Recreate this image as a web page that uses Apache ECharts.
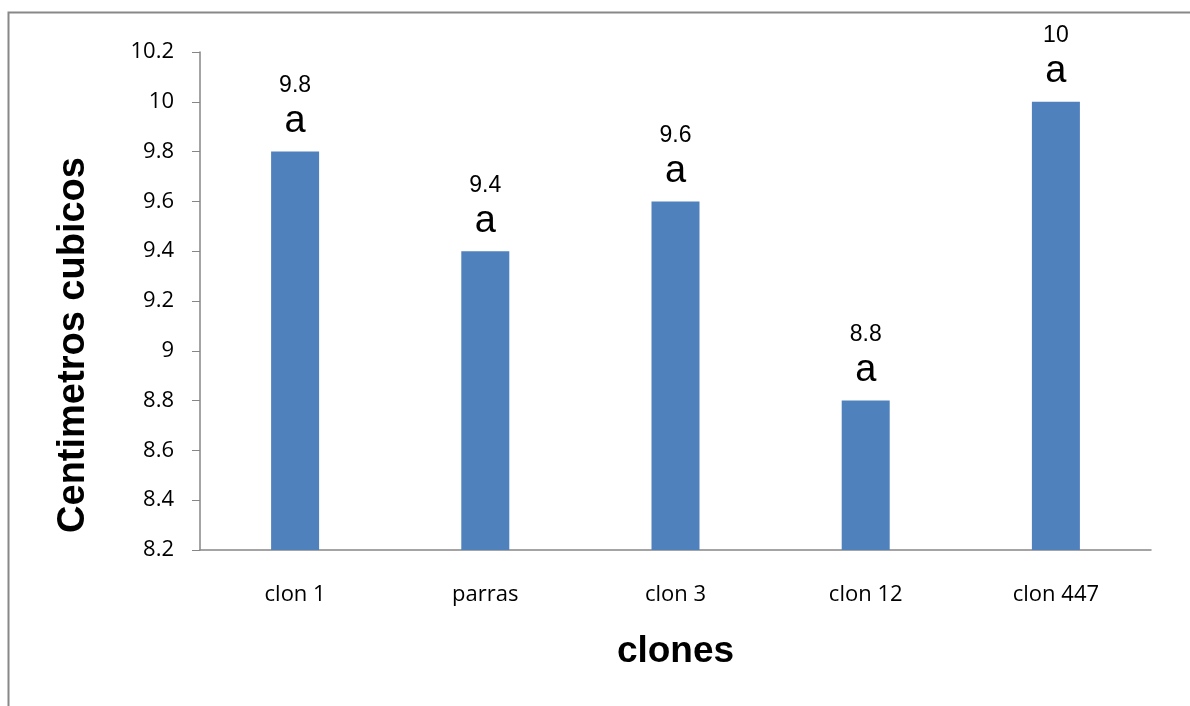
<!DOCTYPE html>
<html>
<head>
<meta charset="utf-8">
<script src="https://cdn.jsdelivr.net/npm/echarts@6/dist/echarts.min.js"></script>
<style>
  html, body { margin: 0; padding: 0; background: #fff; }
  #chart { width: 1190px; height: 706px; }
</style>
</head>
<body>
<div id="chart"></div>
<script>
// Volume per clone, with significance letters
const categories = ['clon 1', 'parras', 'clon 3', 'clon 12', 'clon 447'];
const values = [9.8, 9.4, 9.6, 8.8, 10];
const letters = ['a', 'a', 'a', 'a', 'a'];
const yTicks = { min: 8.2, max: 10.2, step: 0.2 };
const yTitle = 'Centimetros cubicos';
const xTitle = 'clones';

const chart = echarts.init(document.getElementById('chart'));

chart.setOption({
  animation: false,
  backgroundColor: '#ffffff',
  graphic: [{
    type: 'rect',
    left: 6, top: 10,
    shape: { width: 1250, height: 760 },
    style: { fill: 'none', stroke: '#888888', lineWidth: 2 },
    silent: true
  }, {
    // vertical axis title, set a little below the plot's middle
    type: 'text',
    x: 74, y: 345,
    rotation: Math.PI / 2,
    style: {
      text: yTitle,
      font: 'bold 38px "Liberation Sans"',
      fill: '#000',
      align: 'center',
      verticalAlign: 'middle'
    },
    silent: true
  }],
  grid: { left: 200, right: 39, top: 52, bottom: 156 },
  xAxis: {
    type: 'category',
    data: categories,
    name: xTitle,
    nameLocation: 'middle',
    nameGap: 83,
    nameTextStyle: { fontFamily: 'Liberation Sans', fontWeight: 'bold', fontSize: 37, color: '#000' },
    axisLine: { lineStyle: { color: '#868686', width: 1.5 } },
    axisTick: { show: false },
    axisLabel: { fontFamily: 'Open Sans', fontSize: 22, color: '#000', margin: 34 }
  },
  yAxis: {
    type: 'value',
    min: yTicks.min,
    max: yTicks.max,
    interval: yTicks.step,
    axisLine: { show: true, lineStyle: { color: '#868686', width: 1.5 } },
    axisTick: { show: true, inside: false, length: 8, lineStyle: { color: '#868686' } },
    splitLine: { show: false },
    axisLabel: {
      fontFamily: 'Open Sans', fontSize: 22, color: '#000', margin: 26,
      formatter: v => String(+v.toFixed(1))
    }
  },
  series: [{
    type: 'bar',
    data: values,
    barWidth: 48,
    itemStyle: { color: '#4F81BD' },
    label: {
      show: true,
      position: 'top',
      distance: 12,
      formatter: p => '{v|' + p.value + '}\n{a|' + letters[p.dataIndex] + '}',
      rich: {
        v: { fontFamily: 'Liberation Sans', fontSize: 23, color: '#000', lineHeight: 36 },
        a: { fontFamily: 'Liberation Sans', fontSize: 38, color: '#000', lineHeight: 36 }
      }
    }
  }]
});
</script>
</body>
</html>
